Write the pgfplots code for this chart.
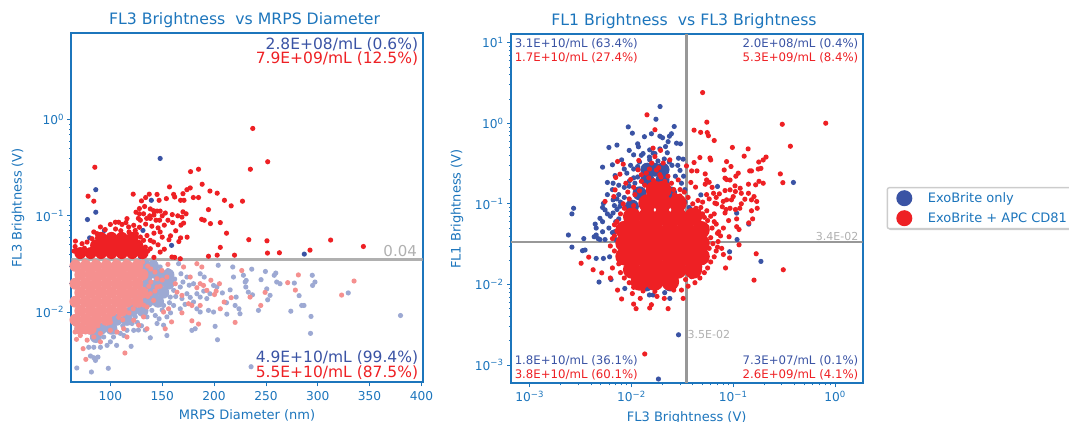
\documentclass[border=0pt]{standalone}
\usepackage{fontspec}
\setmainfont{DejaVu Sans}
\usepackage{pgfplots}
\pgfplotsset{compat=1.18}
\usetikzlibrary{shadows}
\definecolor{cb}{HTML}{3A53A4}
\definecolor{cr}{HTML}{EE2024}
\definecolor{pb}{HTML}{9DA9D3}
\definecolor{pr}{HTML}{F5908F}
\definecolor{ax}{HTML}{1C75BC}
\definecolor{gl}{HTML}{989898}
\definecolor{gm}{HTML}{B0B0B0}
\newcommand\tp[1]{10\textsuperscript{#1}}
\pgfdeclareplotmark{dot}{\pgfpathcircle{\pgfpointorigin}{\pgfplotmarksize}\pgfusepathqfill}
\pgfplotsset{
 every axis title shift=0pt,
 dots/.style 2 args={only marks,mark=dot,mark size=#2pt,mark options={fill=#1},forget plot},
 panel/.style={scale only axis,clip=true,
  axis line style={ax,line width=2pt},
  tick style={ax,line width=0.7pt},
  major tick length=4pt,minor tick length=2.2pt,
  tick align=outside,xtick pos=bottom,ytick pos=left,
  ticklabel style={text=ax,font=\fontsize{12.2}{14}\selectfont},
  label style={text=ax,font=\fontsize{13}{15}\selectfont},
  title style={text=ax,font=\fontsize{15.7}{17}\selectfont},
  /pgf/number format/assume math mode=true}
}
\begin{document}
\begin{tikzpicture}
\useasboundingbox (0,0) rectangle (1069pt,422pt);
% The overplotted middle of each cloud is drawn with larger markers; single points are read from the picture.
\begin{axis}[panel,at={(71.5pt,39.7pt)},width=351pt,height=349pt,
 xmin=62.5,xmax=401,ymode=log,ymin=0.00186,ymax=7.9,
 xtick={100,150,200,250,300,350,400},ytick={0.01,0.1,1},
 yticklabels={\tp{−2},\tp{−1},\tp{0}},
 xticklabel style={yshift=-2pt},
 title={FL3 Brightness\ \ vs MRPS Diameter},
 title style={at={(axis description cs:0.493,1.038)},anchor=center},
 xlabel={MRPS Diameter (nm)},ylabel={FL3 Brightness (V)},
 xlabel style={at={(axis description cs:0.5,-0.0937)},anchor=center},
 ylabel style={at={(axis description cs:-0.152,0.5)},anchor=center}]
% bright blue, upper
\addplot[dots={cb}{2.6}] coordinates {(85.9,.187)(85.9,.109)(77.9,.0915)(80,.059)(94.2,.0705)(139.5,.145)(131.4,.0705)(159,.0493)(128.9,.0379)(287,.04)(148,.395)(67,.044)(72,.044)(70,.038)};
% bright red, upper core
\addplot[dots={cr}{6}] coordinates {(71,.041)(81,.041)(91,.041)(101,.041)(111,.041)(121,.041)(131,.041)(86.2,.0493)(96.2,.0493)(106.1,.0493)(116,.0493)(126,.0493)(91,.059)(101,.059)(111,.059)(121,.059)};
% bright red, upper single points
\addplot[dots={cr}{2.6}] coordinates {(237.3,.81)(251.7,.365)(235,.305)(85,.32)(177.3,.288)(185,.305)(188.5,.213)(157,.2)(177,.195)(173.8,.187)(170,.17)(196,.181)(203,.172)(210,.145)(216.5,.127)(227.4,.142)(180,.155)(185,.155)(122,.168)(130,.143)(134,.155)(137.5,.168)(145,.167)(147,.145)(154,.151)(161,.167)(162,.157)(167.7,.145)(171,.145)(194.6,.116)(188,.092)(190.5,.09)(196.5,.083)(206,.085)(212,.066)(233.5,.0565)(251,.055)(312.4,.056)(344,.048)(292.5,.044)(251.5,.041)(263,.0413)(219.7,.039)(206,.047)(203,.039)(194.6,.038)(78.5,.16)(84,.142)(124.7,.109)(128,.119)(132,.105)(135,.094)(138.5,.118)(141.7,.113)(145,.112)(148,.112)(144,.09)(147.5,.09)(138.5,.094)(127,.094)(153,.107)(159.7,.103)(165,.1)(170,.11)(169,.097)(155.5,.09)(168,.08)(170.6,.084)(148,.068)(150,.06)(156.5,.0565)(166,.054)(167.7,.059)(174,.06)(148,.042)(66.3,.0546)(72.7,.0513)(77.5,.0533)(82.4,.0578)(87,.0653)(90.4,.0766)(100,.0814)(104.8,.0858)(108,.0858)(111.2,.0814)(116,.0935)(117.6,.0766)(122.5,.0797)(124,.0705)(128.9,.09)(128.9,.0602)(132,.0556)(135.3,.0624)(138.5,.0556)(141.7,.0534)(133.7,.0473)(138.5,.0455)(122.5,.0473)(159.4,.0373)(167.4,.0358)(162,.037)(142,.037)(95,.072)(105,.073)(110,.07)(65,.043)(66,.048)(75,.046)(84,.068)(118,.068)(128,.076)(134,.082)(140,.078)(142,.066)(146,.075)(152,.08)(125,.065)(136,.043)(146,.05)(152,.045)(115,.085)(138,.1)(128,.105)(133,.125)(142,.102)(150,.1)(160,.085)(163,.07)(158,.062)(173,.105)};
% pale blue core
\addplot[dots={pb}{6}] coordinates {(131,.03)(141,.03)(136,.0244)(146,.0244)(156,.0244)(136,.0197)(146,.0197)(156,.0197)(131,.0159)(141,.0159)(151,.0159)(126,.0128)(136,.0128)(146,.0128)(121,.0103)(131,.0103)(106,.0083)(116,.0083)(71,.0067)(81,.0067)(91,.0067)(101,.0067)(86,.0055)};
% pale blue single points
\addplot[dots={pb}{2.6}] coordinates {(67.6,.00262)(81.7,.00238)(98,.0026)(235.7,.0027)(84,.00335)(88,.0034)(80.8,.00349)(85.6,.00314)(120,.0044)(106,.0045)(100,.0049)(96.8,.0045)(90.4,.0043)(84,.0043)(79.1,.0043)(103,.0055)(93.6,.0055)(113,.0057)(122.5,.00645)(138.5,.0054)(154.5,.0057)(133.7,.0065)(145,.0076)(151.3,.0073)(178.6,.00645)(181.8,.0067)(203.3,.00515)(201,.0071)(293,.006)(293.5,.009)(274,.0102)(284.5,.0117)(286.7,.0117)(282,.0148)(242.8,.0104)(225,.0096)(224,.0108)(212.3,.0095)(254,.0149)(251.7,.0134)(233,.0161)(230.6,.0182)(237,.0151)(230,.0205)(228.3,.0241)(231,.0213)(218.7,.0231)(218,.0294)(204,.0306)(236.3,.0279)(245.3,.0217)(249.5,.0264)(250.8,.0174)(258,.0241)(259.5,.0254)(260.4,.0205)(263.6,.0197)(277.4,.02)(294.7,.0241)(297.3,.0205)(295,.0189)(329.4,.0158)(379.8,.0092)(215.5,.017)(221.3,.0143)(220.3,.0117)(194.6,.0104)(199.5,.01)(186.6,.01)(183.4,.0108)(167.4,.0108)(161,.0117)(154.5,.0089)(135.3,.0089)(143.3,.0092)(148,.0294)(155.5,.027)(165.8,.0318)(173.8,.0231)(186.6,.025)(190.5,.0231)(199.5,.0189)(180.2,.0197)(183.4,.0155)(173.8,.0155)(167.4,.0182)(161,.0168)(169,.0138)(180.2,.0127)(186.6,.0143)(193,.0138)(202.7,.0182)(151.3,.0231)(154.5,.0197)(148,.0155)(157.8,.0143)(145,.0127)(151.3,.0117)(138.5,.0132)(140,.0104)(130.5,.01)(124,.0089)(120.9,.0076)(116,.00645)(109.6,.006)(135,.033)(143,.0325)(162,.022)(168,.025)(170,.0205)(176,.019)(163,.0145)(157,.0125)(172,.012)(177,.0142)(190,.0165)(196,.0155)(208,.0158)(212,.0125)(150,.0105)(147,.0085)(158,.0098)(126,.0078)(130,.0072)(112,.0072)(105,.0062)(127,.0065)};
% pale red core
\addplot[dots={pr}{6}] coordinates {(66.3,.0302)(76.3,.0302)(86.2,.0302)(96.2,.0302)(106.1,.0302)(116,.0302)(126,.0302)(71,.0244)(81,.0244)(91,.0244)(101,.0244)(111,.0244)(121,.0244)(131,.0244)(66.3,.0197)(76.3,.0197)(86.2,.0197)(96.2,.0197)(106.1,.0197)(116,.0197)(126,.0197)(71,.0159)(81,.0159)(91,.0159)(101,.0159)(111,.0159)(121,.0159)(131,.0159)(66.3,.0128)(76.3,.0128)(86.2,.0128)(96.2,.0128)(106.1,.0128)(116,.0128)(126,.0128)(71,.0103)(81,.0103)(91,.0103)(101,.0103)(111,.0103)(66.3,.0083)(76.3,.0083)(86.2,.0083)(96.2,.0083)(71,.0067)(81,.0067)};
% pale red single points
\addplot[dots={pr}{2.6}] coordinates {(281.3,.0243)(271,.0202)(278.4,.0169)(335,.021)(323,.015)(249.2,.016)(245,.0117)(234.7,.0143)(226.7,.027)(220.3,.0078)(206,.0108)(205.2,.0197)(196.9,.0214)(209.7,.0127)(216.5,.0141)(202,.0165)(200.4,.0152)(188.2,.0294)(183.4,.0318)(155.5,.0313)(170.6,.0294)(149.7,.027)(145,.0222)(154.5,.0231)(162.6,.0197)(177,.0231)(183.4,.0179)(189.8,.0189)(186.6,.0197)(164.2,.0161)(169,.0149)(175.4,.0122)(178.6,.0117)(169,.0098)(159,.0079)(151.3,.01)(156.1,.0108)(152.9,.0067)(178.6,.0081)(185,.0075)(186.6,.0117)(193,.0168)(145,.0182)(138.5,.0155)(141.7,.0132)(135.3,.0113)(132,.0089)(127.3,.0073)(135.3,.0067)(122.5,.0082)(116,.0055)(106.4,.0062)(112.8,.0067)(100,.00645)(90.4,.006)(77.6,.0051)(67.3,.0052)(71,.0057)(84,.0055)(90.4,.0049)(76.3,.00322)(73.7,.00416)(114,.00375)(131,.033)(136,.03)(139,.028)(112,.0083)(118,.0098)(122,.0108)(128,.0118)(136,.0145)(137,.0185)(139,.0205)(66,.033)(75,.0335)(85,.0335)(95,.0335)(105,.0335)(115,.0335)(125,.0335)(66,.0075)(66,.0062)(76,.0062)(88,.0072)(100,.0078)(108,.0088)(143,.026)(150,.0215)(148,.0185)(143,.0165)(132,.0118)};
\addplot[gm,line width=2.8pt,forget plot] coordinates {(62.5,.0353)(401,.0353)};
\node[anchor=east,text=gm,font=\fontsize{15}{17}\selectfont] at (axis cs:399,.0435) {0.04};
\node[anchor=north east,inner sep=0pt,align=right,font=\fontsize{15.5}{14.6}\selectfont] at (axis cs:397,7.2) {\textcolor{cb}{2.8E+08/mL (0.6\%)}\\\textcolor{cr}{7.9E+09/mL (12.5\%)}};
\node[anchor=south east,inner sep=0pt,align=right,font=\fontsize{15.5}{14.6}\selectfont] at (axis cs:397,.002) {\textcolor{cb}{4.9E+10/mL (99.4\%)}\\\textcolor{cr}{5.5E+10/mL (87.5\%)}};
\end{axis}
\begin{axis}[panel,at={(511pt,38.7pt)},width=351.7pt,height=349.6pt,
 xmode=log,ymode=log,xmin=.000655,xmax=1.87,ymin=.000593,ymax=12.9,
 xtick={.001,.01,.1,1},ytick={.001,.01,.1,1,10},
 xticklabels={\tp{−3},\tp{−2},\tp{−1},\tp{0}},
 yticklabels={\tp{−3},\tp{−2},\tp{−1},\tp{0},\tp{1}},
 title={FL1 Brightness\ \ vs FL3 Brightness},
 title style={at={(axis description cs:0.492,1.037)},anchor=center},
 xlabel={FL3 Brightness (V)},ylabel={FL1 Brightness (V)},
 xlabel style={at={(axis description cs:0.4996,-0.0984)},anchor=center},
 ylabel style={at={(axis description cs:-0.1535,0.4986)},anchor=center},
 legend style={at={(1.068,0.5615)},anchor=north west,draw=gray!40,line width=1.4pt,rounded corners=2pt,
  inner xsep=9pt,inner ysep=2.5pt,fill=white,drop shadow={shadow xshift=1.5pt,shadow yshift=-1.5pt,opacity=.4},
  font=\fontsize{13}{15}\selectfont,text=ax,row sep=4pt,nodes={inner sep=1.5pt}},
 legend cell align=left]
\addlegendimage{only marks,mark=dot,mark size=8pt,mark options={fill=cb}}
\addlegendentry{\hspace*{14pt}ExoBrite only\hspace*{30pt}}
\addlegendimage{only marks,mark=dot,mark size=8pt,mark options={fill=cr}}
\addlegendentry{\hspace*{14pt}ExoBrite + APC CD81\hspace*{30pt}}
% blue core
\addplot[dots={cb}{7}] coordinates {(.0143,.198)(.0202,.198)(.012,.135)(.0169,.135)(.024,.135)(.0101,.0925)(.0143,.0925)(.0202,.0925)(.0285,.0925)(.0101,.0635)(.0085,.0475)(.0085,.0325)(.0085,.0222)(.0101,.0152)(.014,.01)(.024,.01)(.0143,.265)(.0169,.265)(.0202,.265)};
% blue single points
\addplot[dots={cb}{2.6}] coordinates {(.0191,1.61)(.0174,1.12)(.0263,.91)(.0093,.9)(.0102,.752)(.0157,.74)(.0134,.68)(.019,.69)(.0202,.66)(.0247,.74)(.0236,.69)(.0303,.555)(.0277,.565)(.0229,.59)(.006,.5)(.0072,.535)(.0115,.555)(.0117,.51)(.0095,.46)(.0105,.405)(.0151,.467)(.0163,.425)(.0052,.285)(.0065,.305)(.008,.351)(.0069,.224)(.0058,.184)(.0066,.18)(.029,.368)(.0322,.358)(.0216,.513)(.0151,.351)(.0027,.088)(.0026,.075)(.0024,.041)(.0034,.037)(.00065,.037)(.0026,.029)(.0033,.0262)(.0035,.0267)(.0048,.0107)(.029,.00237)(.0184,.00067)(.39,.184)(.07,.164)(.108,.0766)(.142,.056)(.109,.036)(.092,.0254)(.187,.0193)(.048,.129)(.0442,.0132)(.0086,.0089)(.0063,.0115)(.0238,.0067)(.015,.0074)(.0163,.0074)(.0212,.0079)(.0045,.041)(.0043,.039)(.0047,.037)(.0049,.036)(.0055,.036)(.0044,.056)(.0049,.066)(.0045,.05)(.0053,.101)(.0055,.084)(.0066,.077)(.0045,.021)(.0053,.021)(.0061,.022)(.0077,.093)(.0066,.112)(.0098,.3)(.012,.33)(.013,.42)(.017,.42)(.021,.36)(.025,.3)(.027,.22)(.031,.18)(.0335,.15)(.03,.26)(.0075,.17)(.009,.24)(.0105,.27)(.0058,.13)(.0062,.07)(.0052,.06)(.0052,.045)(.006,.05)(.0125,.4)(.015,.38)(.019,.48)(.0225,.43)(.0235,.33)(.0285,.3)(.0325,.22)(.0085,.27)(.0115,.29)(.0182,.34)(.0065,.15)(.0052,.09)(.0058,.075)(.0335,.105)(.037,.09)(.039,.0125)(.041,.015)(.0075,.13)(.0085,.12)(.0078,.105)(.0068,.095)(.0072,.085)(.0075,.065)(.007,.06)(.0068,.045)(.0078,.04)(.007,.036)(.0065,.044)(.0085,.16)(.0072,.115)(.0095,.19)(.0105,.21)(.0108,.18)(.0095,.165)(.0115,.215)};
% red core
\addplot[dots={cr}{9}] coordinates {(.0169,.149)(.0202,.149)(.0143,.102)(.0202,.102)(.0285,.102)(.0101,.0695)(.0143,.0695)(.0202,.0695)(.0285,.0695)(.0404,.0695)(.0085,.0475)(.012,.0475)(.0169,.0475)(.024,.0475)(.034,.0475)(.048,.0475)(.0085,.0325)(.012,.0325)(.0169,.0325)(.024,.0325)(.034,.0325)(.048,.0325)(.0085,.0222)(.012,.0222)(.0169,.0222)(.024,.0222)(.034,.0222)(.048,.0222)(.0101,.0152)(.0143,.0152)(.0202,.0152)(.0285,.0152)(.0404,.0152)(.012,.0108)(.0169,.0108)(.024,.0108)(.0101,.039)(.0143,.039)(.0202,.039)(.0285,.039)(.0404,.039)(.0101,.027)(.0143,.027)(.0202,.027)(.0285,.027)(.0404,.027)};
% red single points
\addplot[dots={cr}{2.6}] coordinates {(.05,2.4)(.0142,1.27)(.055,1.03)(.303,.97)(.81,1)(.0412,.82)(.0478,.77)(.0555,.765)(.057,.7)(.065,.61)(.364,.518)(.098,.5)(.14,.48)(.128,.39)(.21,.38)(.197,.35)(.178,.33)(.086,.334)(.095,.29)(.047,.375)(.0412,.325)(.0347,.295)(.06,.35)(.059,.37)(.039,.256)(.044,.256)(.053,.235)(.0815,.263)(.112,.24)(.106,.22)(.151,.256)(.145,.256)(.176,.27)(.187,.275)(.29,.235)(.307,.183)(.197,.18)(.179,.19)(.166,.172)(.141,.175)(.086,.2)(.093,.197)(.083,.208)(.0547,.198)(.058,.185)(.053,.175)(.0383,.184)(.0426,.161)(.104,.167)(.117,.156)(.083,.146)(.093,.149)(.105,.142)(.13,.114)(.141,.135)(.16,.123)(.151,.112)(.17,.107)(.172,.088)(.151,.082)(.155,.065)(.142,.058)(.108,.065)(.108,.052)(.114,.048)(.0686,.1)(.0797,.107)(.086,.112)(.096,.112)(.093,.088)(.083,.077)(.116,.088)(.1,.123)(.064,.135)(.073,.133)(.0547,.13)(.066,.102)(.05,.105)(.091,.039)(.114,.031)(.08,.0235)(.092,.0213)(.168,.024)(.084,.016)(.16,.0113)(.31,.0152)(.07,.029)(.077,.028)(.0135,.00137)(.0111,.005)(.0105,.0057)(.008,.0066)(.0151,.0051)(.0157,.0056)(.0229,.005)(.0322,.0067)(.021,.0067)(.0178,.0071)(.0102,.0077)(.0122,.0067)(.0073,.0085)(.0062,.012)(.0051,.0139)(.0042,.0152)(.0032,.0183)(.0038,.0218)(.017,.83)(.0163,.49)(.0193,.46)(.017,.385)(.0158,.32)(.0118,.345)(.0083,.31)(.0073,.335)(.0077,.233)(.007,.212)(.0088,.18)(.0069,.149)(.0055,.107)(.0067,.123)(.0116,.264)(.0125,.23)(.014,.24)(.0176,.263)(.0205,.32)(.0238,.351)(.019,.23)(.0213,.19)(.0288,.198)(.0247,.18)(.0108,.13)(.0125,.11)(.0083,.1)(.0078,.075)(.0068,.055)(.0075,.03)(.0068,.026)(.0075,.018)(.0065,.016)(.0078,.014)(.0085,.012)(.0095,.0105)(.0105,.0092)(.013,.0083)(.017,.0082)(.026,.0085)(.031,.0085)(.036,.0095)(.042,.0105)(.047,.012)(.052,.014)(.056,.016)(.06,.019)(.065,.022)(.068,.026)(.071,.034)(.075,.04)(.072,.045)(.068,.056)(.065,.06)(.06,.07)(.055,.082)(.048,.09)(.04,.1)(.036,.12)(.033,.14)(.03,.15)(.062,.05)(.056,.062)(.05,.075)(.043,.088)(.055,.052)(.06,.038)(.063,.032)(.058,.028)(.054,.02)(.047,.0165)(.039,.0125)(.034,.0115)(.0062,.03)(.0065,.037)(.0068,.04)(.0072,.06)(.0072,.046)(.0085,.088)(.0095,.115)(.012,.145)(.0135,.17)(.0165,.195)(.0195,.215)(.0225,.17)(.026,.15)(.03,.125)(.04,.075)(.046,.08)(.052,.068)(.065,.075)(.07,.043)(.08,.05)(.09,.062)(.085,.085)(.078,.092)(.105,.085)(.12,.1)(.12,.135)(.068,.12)(.058,.115)(.045,.11)(.062,.16)(.0105,.16)(.0098,.2)(.0125,.19)(.015,.27)(.0185,.28)(.0105,.095)(.0092,.14)(.0228,.22)(.0265,.13)(.0148,.21)};
\addplot[gl,line width=2.8pt,forget plot] coordinates {(.035,.000593)(.035,12.9)};
\addplot[gl,line width=2.8pt,forget plot] coordinates {(.000655,.0335)(1.87,.0335)};
\node[anchor=east,text=gm,font=\fontsize{11}{13}\selectfont,inner sep=0pt] at (axis cs:1.7,.0392) {3.4E-02};
\node[anchor=west,text=gm,font=\fontsize{11}{13}\selectfont,inner sep=0pt] at (axis cs:.0355,.00237) {3.5E-02};
\node[anchor=north west,inner sep=0pt,align=left,font=\fontsize{11.75}{14.2}\selectfont] at (axis cs:.00071,11.4) {\textcolor{cb}{3.1E+10/mL (63.4\%)}\\\textcolor{cr}{1.7E+10/mL (27.4\%)}};
\node[anchor=north east,inner sep=0pt,align=right,font=\fontsize{11.75}{14.2}\selectfont] at (axis cs:1.7,11.4) {\textcolor{cb}{2.0E+08/mL (0.4\%)}\\\textcolor{cr}{5.3E+09/mL (8.4\%)}};
\node[anchor=south west,inner sep=0pt,align=left,font=\fontsize{11.75}{14.2}\selectfont] at (axis cs:.00071,.00064) {\textcolor{cb}{1.8E+10/mL (36.1\%)}\\\textcolor{cr}{3.8E+10/mL (60.1\%)}};
\node[anchor=south east,inner sep=0pt,align=right,font=\fontsize{11.75}{14.2}\selectfont] at (axis cs:1.7,.00064) {\textcolor{cb}{7.3E+07/mL (0.1\%)}\\\textcolor{cr}{2.6E+09/mL (4.1\%)}};
\end{axis}
\end{tikzpicture}
\end{document}
